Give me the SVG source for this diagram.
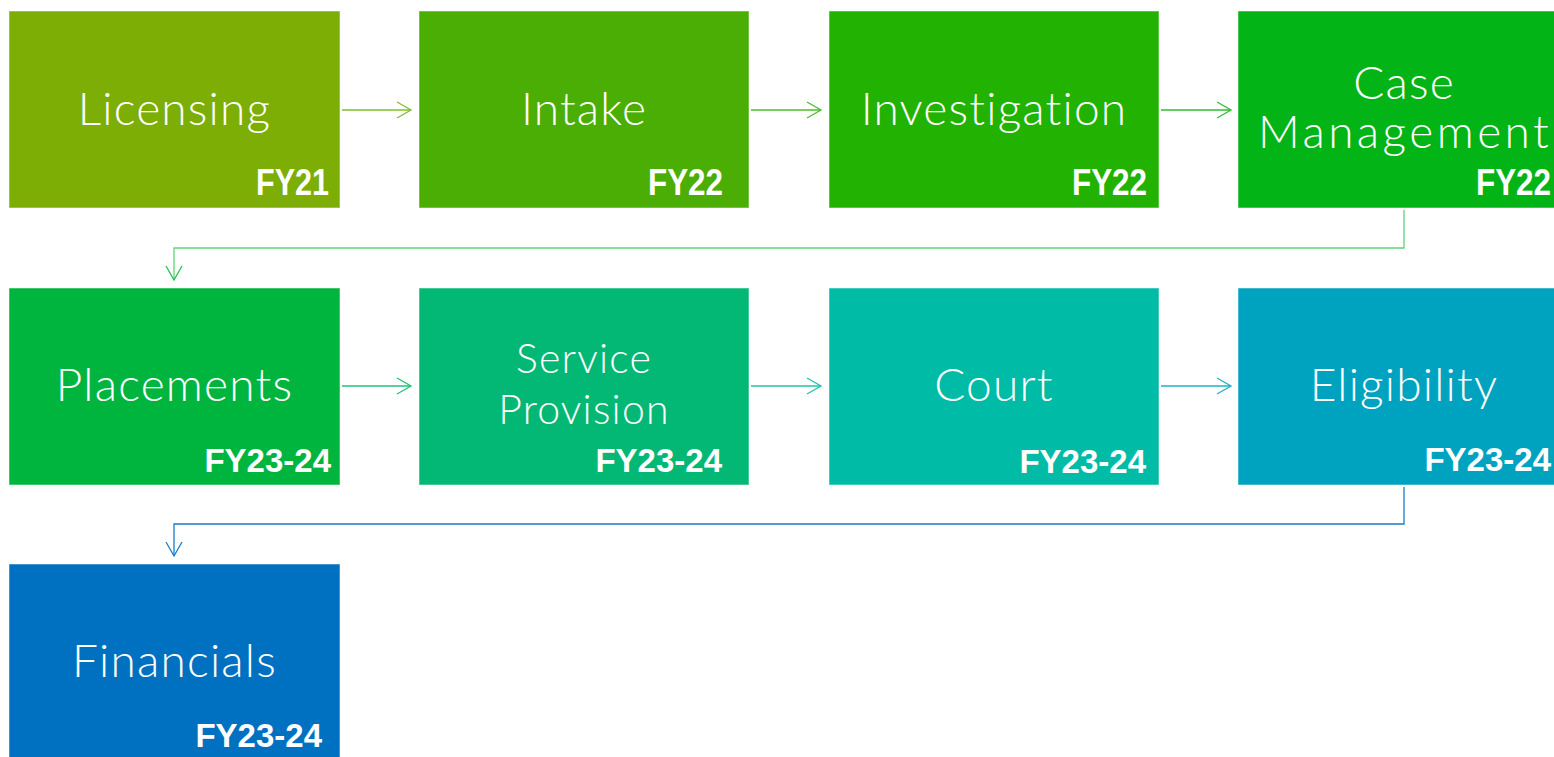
<svg xmlns="http://www.w3.org/2000/svg" width="1554" height="757" viewBox="0 0 1554 757">
<style>
.box{stroke:#ffffff;stroke-opacity:0.5;stroke-width:1}
.lbl{font-family:Lato,"Open Sans","Liberation Sans",sans-serif;font-weight:300;font-size:46px;letter-spacing:1.2px;fill:#ffffff;text-anchor:middle}
.fy{font-family:"Liberation Sans",Arial,sans-serif;font-weight:bold;fill:#ffffff;text-anchor:end}
.fy1{font-size:36px}
.fy2{font-size:33px}
.con{fill:none;stroke-width:1.3}
.head{fill:none;stroke-width:1.3}
</style>
<defs>
<marker id="m1" markerUnits="userSpaceOnUse" markerWidth="20" markerHeight="20" refX="15" refY="9" orient="auto"><path class="head" d="M1,1 L15,9 L1,17" stroke="#82bd2c"/></marker>
<marker id="m2" markerUnits="userSpaceOnUse" markerWidth="20" markerHeight="20" refX="15" refY="9" orient="auto"><path class="head" d="M1,1 L15,9 L1,17" stroke="#4cbd2a"/></marker>
<marker id="m3" markerUnits="userSpaceOnUse" markerWidth="20" markerHeight="20" refX="15" refY="9" orient="auto"><path class="head" d="M1,1 L15,9 L1,17" stroke="#2ebd30"/></marker>
<marker id="m4" markerUnits="userSpaceOnUse" markerWidth="20" markerHeight="20" refX="15" refY="9" orient="auto"><path class="head" d="M1,1 L15,9 L1,17" stroke="#22c24a"/></marker>
<marker id="m5" markerUnits="userSpaceOnUse" markerWidth="20" markerHeight="20" refX="15" refY="9" orient="auto"><path class="head" d="M1,1 L15,9 L1,17" stroke="#22c276"/></marker>
<marker id="m6" markerUnits="userSpaceOnUse" markerWidth="20" markerHeight="20" refX="15" refY="9" orient="auto"><path class="head" d="M1,1 L15,9 L1,17" stroke="#22c2ac"/></marker>
<marker id="m7" markerUnits="userSpaceOnUse" markerWidth="20" markerHeight="20" refX="15" refY="9" orient="auto"><path class="head" d="M1,1 L15,9 L1,17" stroke="#20b0c6"/></marker>
<marker id="m8" markerUnits="userSpaceOnUse" markerWidth="20" markerHeight="20" refX="15" refY="9" orient="auto"><path class="head" d="M1,1 L15,9 L1,17" stroke="#1a7cc8"/></marker>
</defs>
<rect width="1554" height="757" fill="#ffffff"/>
<g id="connectors">
<path class="con" d="M342,110 H411" stroke="#82bd2c" marker-end="url(#m1)"/>
<path class="con" d="M751,110 H821" stroke="#4cbd2a" marker-end="url(#m2)"/>
<path class="con" d="M1161,110 H1231" stroke="#2ebd30" marker-end="url(#m3)"/>
<path class="con" d="M1404,210 V248 H174 V280" stroke="#5dd57a" marker-end="url(#m4)"/>
<path class="con" d="M342,386 H411" stroke="#22c276" marker-end="url(#m5)"/>
<path class="con" d="M751,386 H821" stroke="#22c2ac" marker-end="url(#m6)"/>
<path class="con" d="M1161,386 H1231" stroke="#20b0c6" marker-end="url(#m7)"/>
<path class="con" d="M1404,487 V524 H174 V556" stroke="#1a7cc8" marker-end="url(#m8)"/>
</g>
<g id="node-licensing">
<rect class="box" x="9" y="11" width="331" height="197" fill="#7cae06"/>
<text class="lbl" x="174.5" y="125">Licensing</text>
<text class="fy fy1" x="329" y="195" textLength="73" lengthAdjust="spacingAndGlyphs">FY21</text>
</g>
<g id="node-intake">
<rect class="box" x="419" y="11" width="330" height="197" fill="#4aae04"/>
<text class="lbl" x="584" y="125">Intake</text>
<text class="fy fy1" x="723" y="195" textLength="75" lengthAdjust="spacingAndGlyphs">FY22</text>
</g>
<g id="node-investigation">
<rect class="box" x="829" y="11" width="330" height="197" fill="#22b202"/>
<text class="lbl" x="994" y="125">Investigation</text>
<text class="fy fy1" x="1147" y="195" textLength="75" lengthAdjust="spacingAndGlyphs">FY22</text>
</g>
<g id="node-case-management">
<rect class="box" x="1238" y="11" width="331" height="197" fill="#02b416"/>
<text class="lbl" x="1404" y="99">Case</text>
<text class="lbl" x="1404" y="148" textLength="292" lengthAdjust="spacing">Management</text>
<text class="fy fy1" x="1551" y="195" textLength="75" lengthAdjust="spacingAndGlyphs">FY22</text>
</g>
<g id="node-placements">
<rect class="box" x="9" y="288" width="331" height="197" fill="#00b53e"/>
<text class="lbl" x="174.5" y="401">Placements</text>
<text class="fy fy2" x="331" y="472">FY23-24</text>
</g>
<g id="node-service-provision">
<rect class="box" x="419" y="288" width="330" height="197" fill="#03b874"/>
<text class="lbl" x="584" y="373" style="font-size:41px">Service</text>
<text class="lbl" x="584" y="424" style="font-size:41px">Provision</text>
<text class="fy fy2" x="722" y="472">FY23-24</text>
</g>
<g id="node-court">
<rect class="box" x="829" y="288" width="330" height="197" fill="#00bba6"/>
<text class="lbl" x="994" y="401">Court</text>
<text class="fy fy2" x="1146" y="473">FY23-24</text>
</g>
<g id="node-eligibility">
<rect class="box" x="1238" y="288" width="331" height="197" fill="#00a3bf"/>
<text class="lbl" x="1404" y="401">Eligibility</text>
<text class="fy fy2" x="1551" y="471">FY23-24</text>
</g>
<g id="node-financials">
<rect class="box" x="9" y="564" width="331" height="197" fill="#0071c0"/>
<text class="lbl" x="174.5" y="677">Financials</text>
<text class="fy fy2" x="322" y="747">FY23-24</text>
</g>
</svg>
